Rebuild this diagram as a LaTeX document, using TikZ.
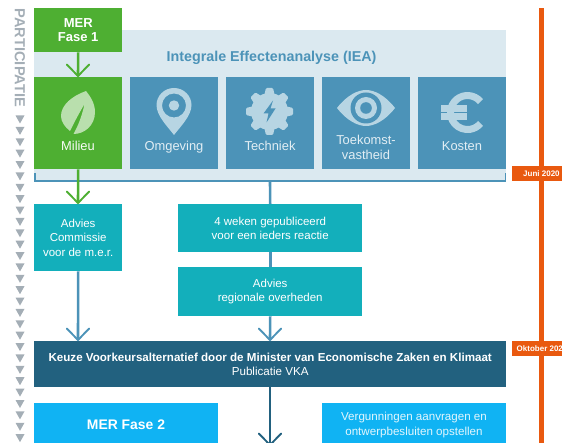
\documentclass[tikz,border=0pt]{standalone}
\usepackage{fontspec}
\setmainfont{Liberation Sans}
\definecolor{grn}{HTML}{4EAF32}
\definecolor{blu}{HTML}{4C93B8}
\definecolor{pale}{HTML}{DBE9F0}
\definecolor{ico}{HTML}{B7D5E3}
\definecolor{lf}{HTML}{B9DFAD}
\definecolor{teal}{HTML}{13AFBB}
\definecolor{dark}{HTML}{22617F}
\definecolor{sky}{HTML}{10B3F3}
\definecolor{org}{HTML}{E9590F}
\definecolor{gry}{HTML}{A4AEB6}
\tikzset{
 x=1pt,y=-1pt,
 boxed/.style={minimum width=#1,inner sep=0pt,anchor=north west,align=center,text=white,font=\fontsize{11.5}{14.2}\selectfont},
 tealbox/.style={boxed=#1,fill=teal},
 tile/.style={minimum width=88pt,minimum height=92pt,inner sep=0pt,anchor=north west,fill=blu},
 tilelabel/.style={text=ico!40!white,font=\fontsize{12.9}{15}\selectfont,align=center,inner sep=0pt,anchor=base},
 conn/.style={line width=2.6pt,color=#1},
 opena/.style={line width=1.9pt,color=#1,line cap=round},
 datebox/.style={fill=org,minimum width=50pt,minimum height=15pt,inner sep=0pt,anchor=north west},
 datetext/.style={text=white,font=\fontsize{8}{9}\bfseries\selectfont,inner sep=0pt,anchor=west},
 tri/.style={fill=gry}
}
% open V arrow head whose tip is at (#1)
\newcommand{\vhead}[2]{\draw[opena=#2] ([xshift=-11.2pt,yshift=11.5pt]#1) -- (#1) -- ([xshift=11.2pt,yshift=11.5pt]#1);}
\begin{document}
\begin{tikzpicture}
\useasboundingbox (0,0) rectangle (562,443);
\clip (0,0) rectangle (562,443);
% IEA panel
\fill[pale] (34,52) rectangle (122,181);
\fill[pale] (122,30) rectangle (506,181);
\node[text=blu,font=\fontsize{14.3}{16}\bfseries\selectfont,inner sep=0pt] (iea) at (271.5,57.5) {Integrale Effectenanalyse (IEA)};
% orange line
\fill[org] (539,8) rectangle (544,443);
\node[datebox] (juni) at (512,166) {};
\node[datetext] (junit) at (523,173.5) {Juni 2020};
\node[datebox] (okt) at (512,341) {};
\node[datetext] (oktt) at (516.5,348.5) {Oktober 2020};
% participatie
\node[rotate=-90,text=gry,font=\fontsize{14.6}{16}\bfseries\selectfont,inner sep=0pt,anchor=west] (part) at (20,8.5) {PARTICIPATIE};
\foreach \i in {0,...,29} {\fill[tri] (15.5,{115.5+11.38*\i}) -- (24.5,{115.5+11.38*\i}) -- (20,{123.5+11.38*\i}) -- cycle;}
% boxes
\node[boxed=88pt,minimum height=44pt,fill=grn,font=\fontsize{13}{15}\bfseries\selectfont] (mer1) at (34,8) {MER\\[-1pt]Fase 1};
\node[tile,fill=grn] (mil) at (34,77) {};
\node[tile] (omg) at (130,77) {};
\node[tile] (tec) at (226,77) {};
\node[tile] (toe) at (322,77) {};
\node[tile] (kos) at (418,77) {};
\node[tilelabel,text=white!90!lf] (lmil) at (78,151) {Milieu};
\node[tilelabel] (lomg) at (174,151) {Omgeving};
\node[tilelabel] (ltec) at (270,151) {Techniek};
\node[tilelabel,anchor=center] (ltoe) at (366,147) {Toekomst-\\vastheid};
\node[tilelabel] (lkos) at (462,151) {Kosten};
% leaf
\fill[lf] (86,91) .. controls (72,96) and (61,105) .. (61,116) .. controls (61,122) and (65,127) .. (70,131) .. controls (73,125) and (78,115) .. (84.5,104) .. controls (82,116) and (78,126) .. (73.5,134) .. controls (84,134) and (95,126) .. (95,112) .. controls (95,103) and (90,96) .. (86,91) -- cycle;
% pin
\fill[ico,even odd rule] (174,88) .. controls (164,88) and (156.5,96) .. (156.5,105) .. controls (156.5,116) and (168,127) .. (174,135) .. controls (180,127) and (191.5,116) .. (191.5,105) .. controls (191.5,96) and (184,88) .. (174,88) -- cycle
 (174,105.5) circle[radius=12];
\fill[ico] (174,105.5) circle[radius=5.2];
% gear
\begin{scope}[shift={(269.5,111.5)}]
\fill[ico] (0,0) circle[radius=18.5];
\foreach \a in {0,45,...,315} {\fill[ico,rotate=\a,rounded corners=1.2pt] (-3.6,-23.5) -- (3.6,-23.5) -- (5.2,-16) -- (-5.2,-16) -- cycle;}
\fill[blu] (3.5,-11) -- (-6,2) -- (-1,2) -- (-3,11) -- (6,-3) -- (1,-3) -- cycle;
\end{scope}
% eye
\fill[ico] (337,108) .. controls (347,95) and (358,90) .. (366,90) .. controls (374,90) and (385,95) .. (395,108) .. controls (385,121) and (374,126) .. (366,126) .. controls (358,126) and (347,121) .. (337,108) -- cycle;
\fill[blu] (366,108) circle[radius=15.5];
\fill[ico] (366,108) circle[radius=11];
\fill[blu] (366,108) circle[radius=5.8];
% euro
\draw[ico,line width=7pt] (480.5,101.6) arc[start angle=-40,end angle=-320,radius=17];
\fill[ico] (441,105) rectangle (467,112);
\fill[ico] (441,113.5) rectangle (467,120);
% bracket
\coordinate (bl) at (35,173);
\coordinate (br) at (505.5,173);
\draw[blu,line width=1.2pt] (bl) |- (270,181) -| (br);
% lower boxes
\node[tealbox=88pt,minimum height=67pt] (adv) at (34,204) {Advies\\Commissie\\voor de m.e.r.};
\node[tealbox=184pt,minimum height=48pt] (wk) at (178,204) {4 weken gepubliceerd\\voor een ieders reactie};
\node[tealbox=184pt,minimum height=49pt] (reg) at (178,267) {Advies\\regionale overheden};
\node[boxed=472pt,minimum height=46pt,fill=dark,font=\fontsize{11.6}{14.5}\selectfont] (vka) at (34,341) {\textbf{Keuze Voorkeursalternatief door de Minister van Economische Zaken en Klimaat}\\Publicatie VKA};
\node[boxed=184pt,minimum height=54pt,fill=sky] (mer2) at (34,403) {};
\node[text=white,font=\fontsize{13.9}{15}\bfseries\selectfont,inner sep=0pt] (mer2t) at (126,424.5) {MER Fase 2};
\node[boxed=184pt,minimum height=54pt,fill=sky] (verg) at (322,403) {};
\node[text=white!88!sky,font=\fontsize{11.6}{14.4}\selectfont,align=center,inner sep=0pt] (vergt) at (414,425) {Vergunningen aanvragen en\\ontwerpbesluiten opstellen};
% connectors
\coordinate (a1) at (78,76);
\coordinate (a2) at (78,203);
\coordinate (a3) at (78,340);
\coordinate (a4) at (270,340);
\coordinate (a5) at (270,445);
\coordinate (t5) at (270,181);
\draw[conn=grn] (mer1.south) -- (a1);
\vhead{a1}{grn}
\draw[conn=grn] (mil.south) -- (a2);
\vhead{a2}{grn}
\draw[conn=blu] (adv.south) -- (a3);
\vhead{a3}{blu}
\draw[conn=blu] (t5) -- (wk.north);
\draw[conn=blu] (wk.south) -- (reg.north);
\draw[conn=blu] (reg.south) -- (a4);
\vhead{a4}{blu}
\draw[conn=dark] (vka.south -| a5) -- (a5);
\vhead{a5}{dark}
\end{tikzpicture}
\end{document}
